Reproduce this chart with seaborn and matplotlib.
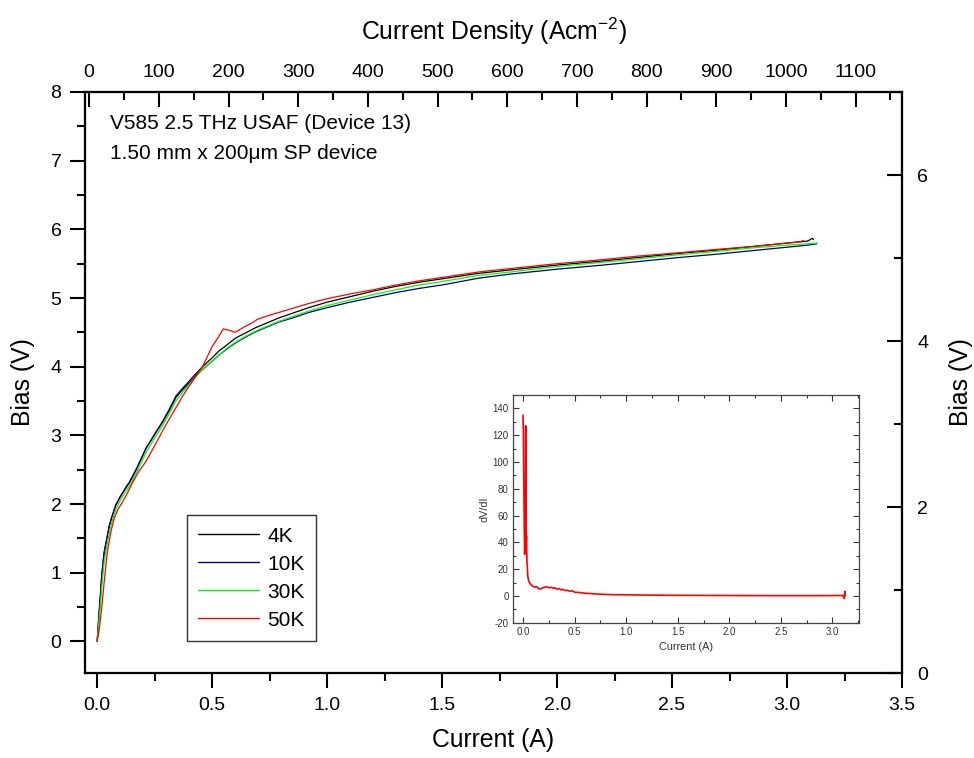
import numpy as np
import pandas as pd
import matplotlib
matplotlib.use("Agg")
import matplotlib.pyplot as plt
from matplotlib.lines import Line2D
from matplotlib.ticker import MultipleLocator, FormatStrFormatter
import seaborn as sns

# ---------------- data ----------------
labels = ["4K", "10K", "30K", "50K"]
colors = ["#000000", "#000080", "#00ff00", "#ff0000"]

I_4K = [0.000, 0.006, 0.012, 0.020, 0.030, 0.040, 0.052, 0.065, 0.081, 0.100, 0.120, 0.140, 0.170,
        0.212, 0.250, 0.284, 0.312, 0.342, 0.370, 0.400, 0.430, 0.458, 0.500, 0.530, 0.565, 0.603,
        0.650, 0.690, 0.740, 0.790, 0.850, 0.920, 1.000, 1.100, 1.200, 1.300, 1.400, 1.500, 1.660,
        1.800, 2.000, 2.200, 2.350, 2.530, 2.700, 2.850, 3.000, 3.090, 3.110, 3.115]
V_4K = [0.00, 0.30, 0.57, 0.95, 1.28, 1.45, 1.67, 1.82, 1.98, 2.10, 2.21, 2.31, 2.50,
        2.81, 3.02, 3.20, 3.37, 3.57, 3.68, 3.79, 3.90, 4.00, 4.13, 4.23, 4.32, 4.42,
        4.50, 4.57, 4.64, 4.71, 4.78, 4.86, 4.94, 5.02, 5.10, 5.17, 5.23, 5.28, 5.36,
        5.41, 5.48, 5.54, 5.59, 5.65, 5.70, 5.75, 5.80, 5.83, 5.87, 5.85]

I_10K = [0.000, 0.006, 0.012, 0.020, 0.030, 0.040, 0.052, 0.065, 0.081, 0.100, 0.120, 0.140, 0.170,
         0.212, 0.250, 0.284, 0.312, 0.342, 0.370, 0.400, 0.430, 0.458, 0.500, 0.530, 0.565, 0.603,
         0.650, 0.690, 0.740, 0.790, 0.850, 0.920, 1.000, 1.100, 1.200, 1.300, 1.400, 1.500, 1.660,
         1.800, 2.000, 2.200, 2.350, 2.530, 2.700, 2.850, 3.000, 3.090, 3.130]
V_10K = [0.00, 0.32, 0.60, 0.98, 1.30, 1.47, 1.68, 1.83, 1.99, 2.11, 2.22, 2.32, 2.51,
         2.81, 3.01, 3.19, 3.35, 3.55, 3.66, 3.76, 3.87, 3.96, 4.08, 4.17, 4.26, 4.35,
         4.44, 4.51, 4.58, 4.65, 4.71, 4.79, 4.86, 4.94, 5.01, 5.08, 5.14, 5.19, 5.29,
         5.35, 5.42, 5.48, 5.53, 5.59, 5.64, 5.69, 5.74, 5.77, 5.79]

I_30K = [0.000, 0.006, 0.012, 0.020, 0.030, 0.040, 0.052, 0.065, 0.081, 0.100, 0.120, 0.140, 0.170,
         0.212, 0.250, 0.284, 0.312, 0.342, 0.370, 0.400, 0.430, 0.458, 0.500, 0.530, 0.565, 0.603,
         0.650, 0.690, 0.740, 0.790, 0.850, 0.920, 1.000, 1.100, 1.200, 1.300, 1.400, 1.500, 1.660,
         1.800, 2.000, 2.200, 2.350, 2.530, 2.700, 2.850, 3.000, 3.090, 3.130]
V_30K = [0.00, 0.22, 0.45, 0.80, 1.15, 1.35, 1.57, 1.75, 1.92, 2.05, 2.16, 2.26, 2.45,
         2.75, 2.96, 3.14, 3.31, 3.50, 3.62, 3.74, 3.86, 3.96, 4.08, 4.17, 4.27, 4.36,
         4.45, 4.52, 4.59, 4.66, 4.73, 4.81, 4.89, 4.97, 5.05, 5.12, 5.19, 5.24, 5.33,
         5.38, 5.46, 5.52, 5.57, 5.63, 5.68, 5.73, 5.77, 5.79, 5.80]

I_50K = [0.000, 0.010, 0.020, 0.030, 0.044, 0.060, 0.074, 0.090, 0.110, 0.130, 0.152, 0.180, 0.212,
         0.250, 0.298, 0.330, 0.371, 0.415, 0.458, 0.501, 0.525, 0.548, 0.575, 0.600, 0.640, 0.675,
         0.697, 0.740, 0.790, 0.850, 0.920, 1.000, 1.100, 1.200, 1.300, 1.400, 1.500, 1.660, 1.800,
         2.000, 2.200, 2.350, 2.530, 2.700, 2.850, 3.000, 3.060, 3.070]
V_50K = [0.00, 0.20, 0.50, 0.85, 1.30, 1.60, 1.79, 1.92, 2.03, 2.15, 2.30, 2.47, 2.62,
         2.85, 3.15, 3.33, 3.57, 3.79, 4.00, 4.30, 4.42, 4.55, 4.53, 4.50, 4.58, 4.64,
         4.69, 4.74, 4.79, 4.85, 4.92, 4.99, 5.06, 5.12, 5.19, 5.25, 5.30, 5.38, 5.43,
         5.50, 5.56, 5.61, 5.66, 5.71, 5.75, 5.80, 5.82, 5.84]

# inset: dV/dI of the 50K curve
I_inset = [0.000, 0.004, 0.008, 0.012, 0.016, 0.020, 0.024, 0.026, 0.028, 0.031, 0.034, 0.038, 0.042,
           0.046, 0.052, 0.058, 0.064, 0.072, 0.080, 0.090, 0.100, 0.115, 0.130, 0.150, 0.170, 0.190,
           0.210, 0.230, 0.250, 0.270, 0.290, 0.310, 0.330, 0.350, 0.370, 0.390, 0.410, 0.430, 0.450,
           0.480, 0.500, 0.550, 0.600, 0.650, 0.700, 0.750, 0.800, 0.900, 1.000, 1.200, 1.400, 1.600,
           1.800, 2.000, 2.200, 2.400, 2.600, 2.800, 3.000, 3.100, 3.115, 3.120, 3.122]
dVdI_inset = [135, 120, 85, 50, 31, 45, 35, 127, 60, 40, 45, 25, 22,
              15, 12, 10.5, 9.8, 9, 8, 7.5, 7, 6.5, 7, 5.5, 5.2, 6,
              6.5, 6.8, 6, 6.5, 5.8, 6, 5, 5.5, 4.5, 4.8, 4, 4.2, 3.5,
              3.8, 2.8, 2.5, 2.0, 1.8, 1.5, 1.3, 1.1, 0.9, 0.8, 0.6, 0.5, 0.4,
              0.35, 0.3, 0.25, 0.2, 0.2, 0.2, 0.25, 0.3, -2, 3.5, 0.5]

annot1 = "V585 2.5 THz USAF (Device 13)"
annot2 = "1.50 mm x 200\u03bcm SP device"

# ---------------- style ----------------
sns.set_style("ticks")
plt.rcParams["font.family"] = ["Liberation Sans", "DejaVu Sans"]
plt.rcParams["mathtext.fontset"] = "custom"
plt.rcParams["mathtext.rm"] = "Liberation Sans"
plt.rcParams["mathtext.default"] = "regular"
plt.rcParams["axes.edgecolor"] = "black"
plt.rcParams["axes.labelcolor"] = "black"
plt.rcParams["text.color"] = "black"
plt.rcParams["xtick.color"] = "black"
plt.rcParams["ytick.color"] = "black"

W, H = 974, 758
fig = plt.figure(figsize=(W / 100, H / 100), dpi=100)
fig.patch.set_facecolor("white")

L, R, T, B = 85, 902, 92, 673
ax = fig.add_axes([L / W, (H - B) / H, (R - L) / W, (B - T) / H])
ax.set_facecolor("white")

frames = []
for lab, xs, ys in zip(labels, [I_4K, I_10K, I_30K, I_50K], [V_4K, V_10K, V_30K, V_50K]):
    frames.append(pd.DataFrame({"Current": xs, "Bias": ys, "T": lab}))
df = pd.concat(frames, ignore_index=True)
palette = dict(zip(labels, colors))

sns.lineplot(data=df, x="Current", y="Bias", hue="T", hue_order=labels, palette=palette,
             sort=False, estimator=None, linewidth=0.9, ax=ax, legend=False)

TICK_FS = 14
LAB_FS = 17.8
ax.set_xlim(-0.053, 3.5)
ax.set_ylim(-0.46, 8)
ax.xaxis.set_major_locator(MultipleLocator(0.5))
ax.xaxis.set_minor_locator(MultipleLocator(0.25))
ax.xaxis.set_major_formatter(FormatStrFormatter("%.1f"))
ax.yaxis.set_major_locator(MultipleLocator(1))
ax.yaxis.set_minor_locator(MultipleLocator(0.5))
ax.yaxis.set_major_formatter(FormatStrFormatter("%d"))
ax.tick_params(which="major", direction="out", length=11, width=1.5, labelsize=TICK_FS, pad=6)
ax.tick_params(which="minor", direction="out", length=6, width=1.5)
ax.set_xlabel("Current (A)", fontsize=LAB_FS, labelpad=10)
ax.set_ylabel("Bias (V)", fontsize=LAB_FS, labelpad=11)

# top axis: current density
axt = ax.twiny()
axt.set_xlim(-6, 1166.7)
axt.xaxis.set_major_locator(MultipleLocator(100))
axt.xaxis.set_minor_locator(MultipleLocator(50))
axt.xaxis.set_major_formatter(FormatStrFormatter("%d"))
axt.tick_params(axis="x", which="major", direction="in", length=11, width=1.5, labelsize=TICK_FS, pad=8)
axt.tick_params(axis="x", which="minor", direction="in", length=6, width=1.5)
axt.set_xlabel("Current Density (Acm$^{-2}$)", fontsize=LAB_FS, labelpad=17)

# right axis
axr = ax.twinx()
axr.set_ylim(0, 7)
axr.yaxis.set_major_locator(MultipleLocator(2))
axr.yaxis.set_minor_locator(MultipleLocator(1))
axr.yaxis.set_major_formatter(FormatStrFormatter("%d"))
axr.tick_params(axis="y", which="major", direction="in", length=11, width=1.5, labelsize=TICK_FS, pad=11)
axr.tick_params(axis="y", which="minor", direction="in", length=6, width=1.5)
axr.set_ylabel("Bias (V)", fontsize=LAB_FS, labelpad=15)

for a in (ax, axt, axr):
    for s in a.spines.values():
        s.set_linewidth(1.5)
        s.set_color("black")

handles = [Line2D([], [], color=c, lw=1.0) for c in colors]
leg = ax.legend(handles, labels, loc="lower left", bbox_to_anchor=(0.1248, 0.055),
                borderaxespad=0, fontsize=15, handlelength=2.9, handletextpad=0.4,
                labelspacing=0.43, borderpad=0.55, fancybox=False, frameon=True)
leg.get_frame().set_edgecolor("black")
leg.get_frame().set_linewidth(1.0)
leg.set_zorder(10)

fig.text(110 / W, 1 - 129 / H, annot1, fontsize=15, va="baseline", ha="left")
fig.text(110 / W, 1 - 159 / H, annot2, fontsize=15, va="baseline", ha="left")

# ---------------- inset ----------------
iL, iR, iT, iB = 512.7, 859.3, 395, 622.7
axin = fig.add_axes([iL / W, (H - iB) / H, (iR - iL) / W, (iB - iT) / H])
axin.set_facecolor("white")
dfi = pd.DataFrame({"Current": I_inset, "dVdI": dVdI_inset})
sns.lineplot(data=dfi, x="Current", y="dVdI", sort=False, estimator=None,
             color="#ff0000", linewidth=1.2, ax=axin)
axin.set_xlim(-0.1, 3.26)
axin.set_ylim(-20, 150)
axin.xaxis.set_major_locator(MultipleLocator(0.5))
axin.xaxis.set_minor_locator(MultipleLocator(0.25))
axin.xaxis.set_major_formatter(FormatStrFormatter("%.1f"))
axin.yaxis.set_major_locator(MultipleLocator(20))
axin.yaxis.set_minor_locator(MultipleLocator(10))
axin.yaxis.set_major_formatter(FormatStrFormatter("%d"))
axin.tick_params(which="both", direction="in", top=True, right=True, color="#333333",
                 labelcolor="#333333", width=0.8)
axin.tick_params(which="major", length=4, labelsize=7, pad=3)
axin.tick_params(which="minor", length=2)
axin.set_xlabel("Current (A)", fontsize=7.8, color="#333333", labelpad=4)
axin.set_ylabel("dV/dI", fontsize=7.8, color="#333333", labelpad=2)
for s in axin.spines.values():
    s.set_linewidth(0.9)
    s.set_color("#444444")

fig.savefig("out.png", dpi=100, facecolor="white")
